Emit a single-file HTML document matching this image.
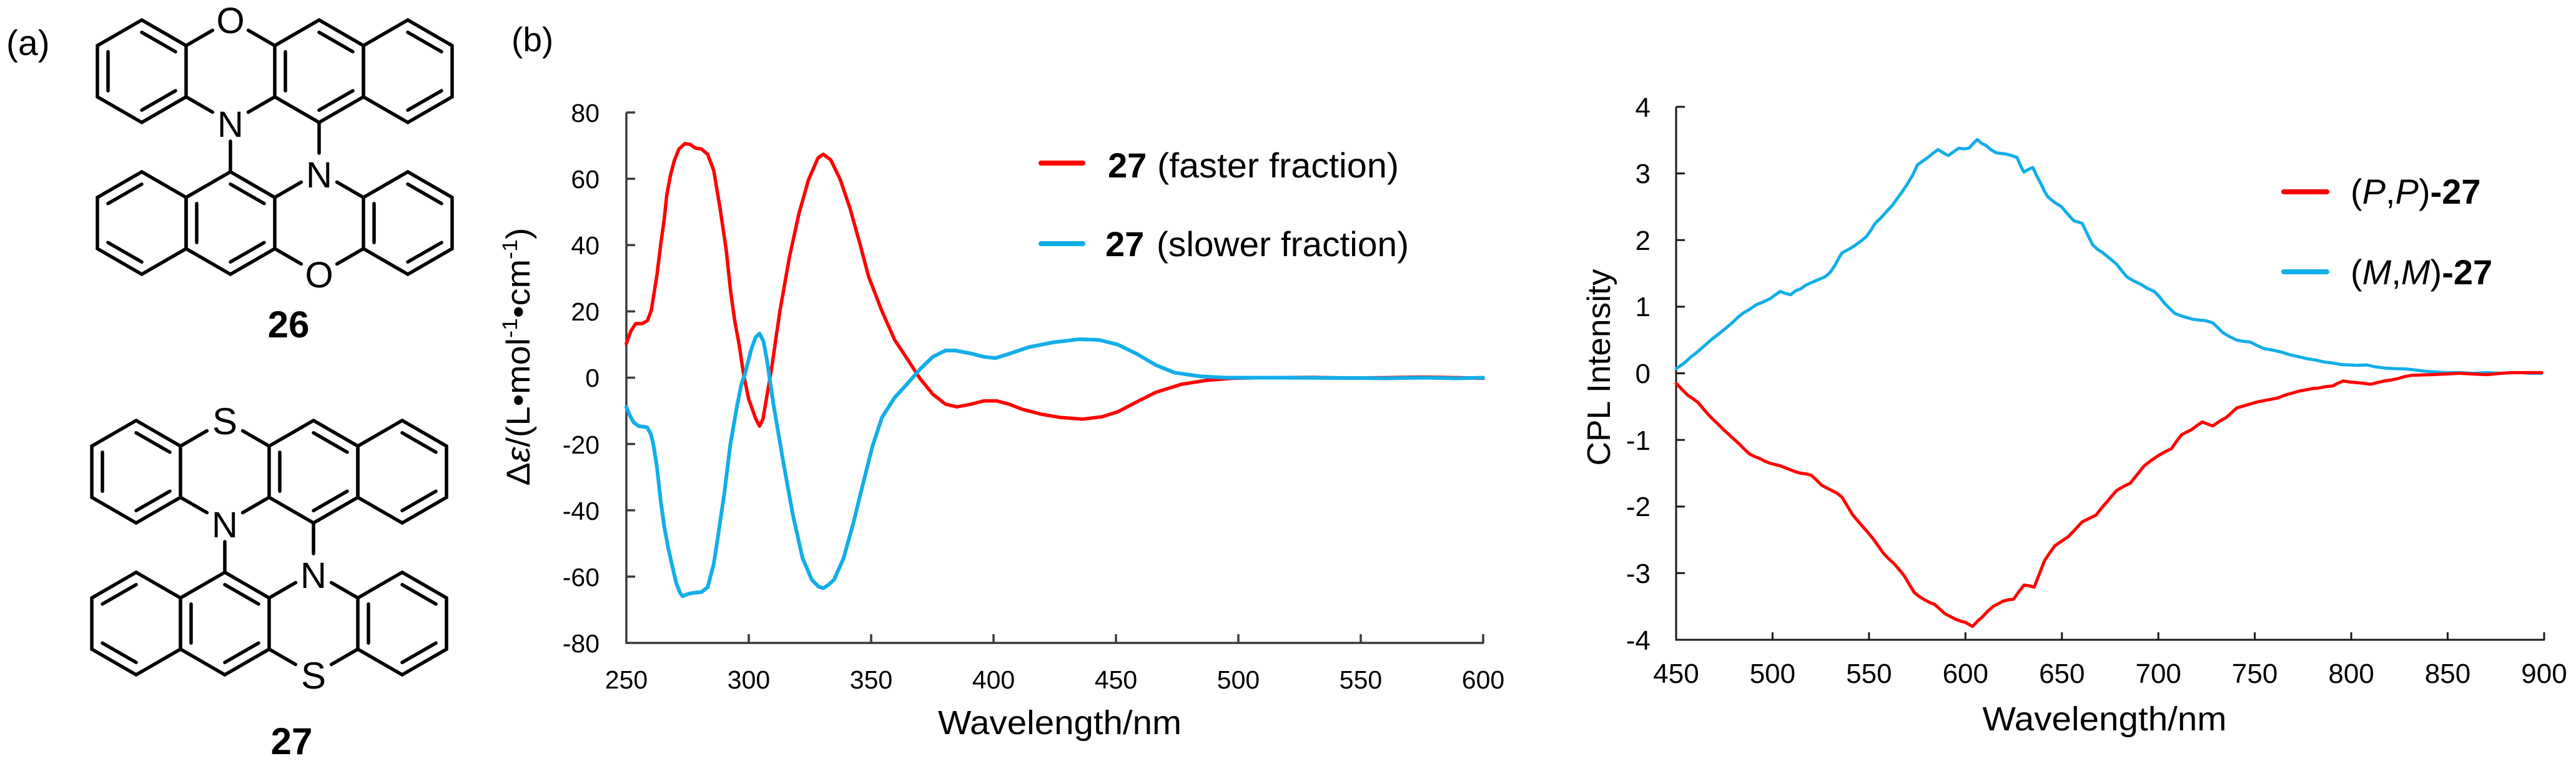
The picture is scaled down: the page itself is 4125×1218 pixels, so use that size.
<!DOCTYPE html>
<html>
<head>
<meta charset="utf-8">
<style>
  html,body{margin:0;padding:0;background:#fff;}
  svg{display:block;}
  text{font-family:"Liberation Sans", Arial, sans-serif; fill:#000;}
</style>
</head>
<body>
<svg xmlns="http://www.w3.org/2000/svg" width="4125" height="1218" viewBox="0 0 4125 1218">
  <rect x="0" y="0" width="4125" height="1218" fill="#fff"/>

  <!-- Panel labels -->
  <text x="10" y="88" font-size="57">(a)</text>
  <text x="819" y="82" font-size="55">(b)</text>

  <!-- ===== Molecule 26 ===== -->
  <g transform="translate(227,114)">
    <g fill="none" stroke="#000" stroke-width="5.5" stroke-linejoin="miter" stroke-linecap="round">
      <polygon points="0,-82 71,-41 71,41 0,82 -71,41 -71,-41"/>
      <polygon points="284,-82 355,-41 355,41 284,82 213,41 213,-41"/>
      <polygon points="426,-82 497,-41 497,41 426,82 355,41 355,-41"/>
      <polygon points="0,161 71,202 71,284 0,325 -71,284 -71,202"/>
      <polygon points="142,161 213,202 213,284 142,325 71,284 71,202"/>
      <polygon points="426,161 497,202 497,284 426,325 355,284 355,202"/>
      <path d="M71,-41 L113.4,-65.5 M213,-41 L170.6,-65.5 M71,41 L113.4,65.5 M213,41 L170.6,65.5 M142,112 L142,161 M284,82 L284,131 M213,202 L255.4,177.5 M355,202 L312.6,177.5 M213,284 L255.4,308.5 M355,284 L312.6,308.5"/>
      <path d="M0,-62.3 L54,-31.2 M-54,-31.2 L-54,31.2 M54,31.2 L0,62.3 M230,-31.2 L230,31.2 M284,-62.3 L338,-31.2 M338,31.2 L284,62.3 M426,-62.3 L480,-31.2 M480,31.2 L426,62.3 M-54,211.8 L0,180.7 M-54,274.2 L0,305.3 M142,180.7 L196,211.8 M88,211.8 L88,274.2 M196,274.2 L142,305.3 M426,180.7 L480,211.8 M372,211.8 L372,274.2 M480,274.2 L426,305.3"/>
    </g>
    <text x="142" y="-61" font-size="58" text-anchor="middle">O</text>
    <text x="142" y="105" font-size="58" text-anchor="middle">N</text>
    <text x="284" y="186" font-size="58" text-anchor="middle">N</text>
    <text x="284" y="346" font-size="58" text-anchor="middle">O</text>
  </g>
  <text x="462" y="540" font-size="60" font-weight="bold" text-anchor="middle">26</text>

  <!-- ===== Molecule 27 ===== -->
  <g transform="translate(218,755)">
    <g fill="none" stroke="#000" stroke-width="5.5" stroke-linejoin="miter" stroke-linecap="round">
      <polygon points="0,-82 71,-41 71,41 0,82 -71,41 -71,-41"/>
      <polygon points="284,-82 355,-41 355,41 284,82 213,41 213,-41"/>
      <polygon points="426,-82 497,-41 497,41 426,82 355,41 355,-41"/>
      <polygon points="0,161 71,202 71,284 0,325 -71,284 -71,202"/>
      <polygon points="142,161 213,202 213,284 142,325 71,284 71,202"/>
      <polygon points="426,161 497,202 497,284 426,325 355,284 355,202"/>
      <path d="M71,-41 L113.4,-65.5 M213,-41 L170.6,-65.5 M71,41 L113.4,65.5 M213,41 L170.6,65.5 M142,112 L142,161 M284,82 L284,131 M213,202 L255.4,177.5 M355,202 L312.6,177.5 M213,284 L255.4,308.5 M355,284 L312.6,308.5"/>
      <path d="M0,-62.3 L54,-31.2 M-54,-31.2 L-54,31.2 M54,31.2 L0,62.3 M230,-31.2 L230,31.2 M284,-62.3 L338,-31.2 M338,31.2 L284,62.3 M426,-62.3 L480,-31.2 M480,31.2 L426,62.3 M-54,211.8 L0,180.7 M-54,274.2 L0,305.3 M142,180.7 L196,211.8 M88,211.8 L88,274.2 M196,274.2 L142,305.3 M426,180.7 L480,211.8 M372,211.8 L372,274.2 M480,274.2 L426,305.3"/>
    </g>
    <text x="142" y="-60" font-size="60" text-anchor="middle">S</text>
    <text x="142" y="105" font-size="58" text-anchor="middle">N</text>
    <text x="284" y="186" font-size="58" text-anchor="middle">N</text>
    <text x="284" y="347" font-size="60" text-anchor="middle">S</text>
  </g>
  <text x="467" y="1207" font-size="60" font-weight="bold" text-anchor="middle">27</text>

  <!-- ===== CD chart ===== -->
  <g stroke="#3a3a3a" stroke-width="3.5" fill="none">
    <path d="M1003,180 L1003,1029 L2376,1029"/>
    <path d="M1003,180 H1017 M1003,286.1 H1017 M1003,392.3 H1017 M1003,498.4 H1017 M1003,604.5 H1017 M1003,710.6 H1017 M1003,816.7 H1017 M1003,922.9 H1017"/>
    <path d="M1199,1029 V1015 M1395,1029 V1015 M1591,1029 V1015 M1787,1029 V1015 M1983,1029 V1015 M2179,1029 V1015 M2375,1029 V1015"/>
  </g>
  <g font-size="41" fill="#222" text-anchor="end">
    <text x="960" y="195">80</text>
    <text x="960" y="301">60</text>
    <text x="960" y="407">40</text>
    <text x="960" y="513">20</text>
    <text x="960" y="619">0</text>
    <text x="960" y="726">-20</text>
    <text x="960" y="832">-40</text>
    <text x="960" y="938">-60</text>
    <text x="960" y="1044">-80</text>
  </g>
  <g font-size="41" fill="#222" text-anchor="middle">
    <text x="1003" y="1102">250</text>
    <text x="1199" y="1102">300</text>
    <text x="1395" y="1102">350</text>
    <text x="1591" y="1102">400</text>
    <text x="1787" y="1102">450</text>
    <text x="1983" y="1102">500</text>
    <text x="2179" y="1102">550</text>
    <text x="2375" y="1102">600</text>
  </g>
  <text x="1697" y="1175" font-size="54" text-anchor="middle" textLength="390" lengthAdjust="spacingAndGlyphs">Wavelength/nm</text>
  <text transform="translate(848,571) rotate(-90)" font-size="53" text-anchor="middle" textLength="413" lengthAdjust="spacingAndGlyphs">Δ<tspan font-style="italic">ε</tspan>/(L•mol<tspan dy="-20" font-size="34">-1</tspan><tspan dy="20">•cm</tspan><tspan dy="-20" font-size="34">-1</tspan><tspan dy="20">)</tspan></text>

  <g transform="matrix(3.92 0 0 -5.306 23 604.5)" fill="none" stroke-linejoin="round" stroke-linecap="round">
    <polyline vector-effect="non-scaling-stroke" stroke="#ff0000" stroke-width="5.5" points="250,10.3 251.8,14 253.8,16.3 256.4,16.3 258.6,17.2 260.2,20.3 261,24 262.5,31 264,40 265.5,48 266.5,55 268,61 269.6,65.5 271.5,69 273.9,70.6 276,70.4 277.5,69.6 278.5,69.2 280.6,69 283.2,67.4 285.7,62.5 288.3,51 290.8,38.5 292.6,26 294.3,17 296,10.3 298,0.5 300,-6.5 302.8,-12.3 304.4,-14.6 305.8,-12.5 307.3,-6 309.3,2.6 312.7,20 316.6,36.3 320.5,49.5 324.4,59.7 328.3,66.3 330.4,67.4 333.5,65.7 337.4,59.7 341.4,51 345.3,40.7 349,30.4 354.4,20.1 359.6,11.4 364.8,5.6 370,-0.3 375.2,-5 380.4,-8 385,-8.8 390.8,-8 396,-7 401.3,-7 406.4,-8 411.6,-9.5 419.4,-11 427.3,-12 436.4,-12.5 444.2,-11.8 450.7,-10.3 458.5,-7.3 466.3,-4.4 476.7,-2 487,-0.8 497.5,-0.2 510,0 530,0.1 545,-0.1 560,0 575,0.2 590,0 600,-0.2"/>
    <polyline vector-effect="non-scaling-stroke" stroke="#12aee8" stroke-width="6" points="250,-8.9 251.5,-11.5 253,-13.5 255,-14.6 257,-14.8 258.5,-15 260,-17 261,-20 262.5,-27 264,-37 265.5,-45 267,-51 268.5,-56 270.4,-62 272,-65 273,-65.9 275,-65.3 277.3,-64.9 280.6,-64.7 283.2,-63.2 285.7,-56.2 287.5,-47.5 290,-35 292.5,-20 295.2,-8.6 297,-2 298.6,1.5 301,8.5 302.8,12.2 304.4,13.3 306,11 307.5,5 310,-7.6 314,-25 318,-41.3 322,-54.5 325.8,-61 328.5,-63 330.4,-63.5 332.5,-62.5 334.8,-61 338.7,-54.5 342.6,-44.2 346.5,-32.5 350.5,-20.8 354.4,-12 359.6,-6 364.8,-1.8 370,2.6 375.2,6.3 380.4,8.2 384.3,8.2 390.8,7.3 396,6.3 400.7,5.9 406.4,7.2 414.3,9.2 424.7,10.7 435.1,11.6 443,11.4 450.7,10 458.5,7.2 466.3,3.8 474,1.5 484.5,0.4 495,0 520,0 550,-0.1 560,-0.2 575,0 590,-0.2 600,0"/>
  </g>

  <!-- CD legend -->
  <line x1="1667" y1="261" x2="1734" y2="261" stroke="#ff0000" stroke-width="8" stroke-linecap="round"/>
  <line x1="1667" y1="390" x2="1734" y2="390" stroke="#12aee8" stroke-width="8" stroke-linecap="round"/>
  <text x="1774" y="284" font-size="56" font-weight="bold">27</text>
  <text x="1853" y="284" font-size="56" textLength="387" lengthAdjust="spacingAndGlyphs">(faster fraction)</text>
  <text x="1770" y="410" font-size="56" font-weight="bold">27</text>
  <text x="1852" y="410" font-size="56" textLength="404" lengthAdjust="spacingAndGlyphs">(slower fraction)</text>

  <!-- ===== CPL chart ===== -->
  <g stroke="#1a1a1a" stroke-width="3" fill="none">
    <path d="M2684,171 L2684,1024 L4075,1024"/>
    <path d="M2684,171 H2698 M2684,277.6 H2698 M2684,384.3 H2698 M2684,490.9 H2698 M2684,597.5 H2698 M2684,704.1 H2698 M2684,810.7 H2698 M2684,917.3 H2698"/>
    <path d="M2838.4,1024 V1012 M2992.9,1024 V1012 M3147.3,1024 V1012 M3301.8,1024 V1012 M3456.2,1024 V1012 M3610.6,1024 V1012 M3765.1,1024 V1012 M3919.5,1024 V1012 M4074,1024 V1012"/>
  </g>
  <g font-size="44" fill="#111" text-anchor="end">
    <text x="2643" y="187">4</text>
    <text x="2643" y="293">3</text>
    <text x="2643" y="400">2</text>
    <text x="2643" y="506">1</text>
    <text x="2643" y="613">0</text>
    <text x="2643" y="720">-1</text>
    <text x="2643" y="826">-2</text>
    <text x="2643" y="933">-3</text>
    <text x="2643" y="1040">-4</text>
  </g>
  <g font-size="44" fill="#111" text-anchor="middle">
    <text x="2684" y="1093">450</text>
    <text x="2838.4" y="1093">500</text>
    <text x="2992.9" y="1093">550</text>
    <text x="3147.3" y="1093">600</text>
    <text x="3301.8" y="1093">650</text>
    <text x="3456.2" y="1093">700</text>
    <text x="3610.6" y="1093">750</text>
    <text x="3765.1" y="1093">800</text>
    <text x="3919.5" y="1093">850</text>
    <text x="4074" y="1093">900</text>
  </g>
  <text x="3370" y="1169" font-size="54" text-anchor="middle" textLength="391" lengthAdjust="spacingAndGlyphs">Wavelength/nm</text>
  <text transform="translate(2578,588) rotate(-90)" font-size="52" text-anchor="middle" textLength="315" lengthAdjust="spacingAndGlyphs">CPL Intensity</text>

  <g transform="matrix(3.089 0 0 -106.6 1294 597.5)" fill="none" stroke-linejoin="round" stroke-linecap="round">
    <polyline vector-effect="non-scaling-stroke" stroke="#12aee8" stroke-width="5" points="450,0.07 454,0.15 457.8,0.25 461,0.32 464.9,0.42 468,0.5 472,0.59 475,0.66 479.1,0.76 482,0.84 484.5,0.9 488,0.96 491.6,1.03 495,1.07 498.7,1.12 501,1.17 504,1.23 506.5,1.2 509.4,1.18 512,1.24 514.7,1.27 517,1.32 520,1.36 524,1.41 527.2,1.45 530,1.52 532.5,1.63 534.5,1.74 536,1.81 540,1.87 543.2,1.93 546,1.99 548.5,2.05 551,2.15 553.1,2.25 556,2.33 559.1,2.43 562,2.52 564.5,2.62 567,2.72 569.8,2.84 572.5,2.97 575.1,3.13 578,3.19 580.5,3.24 583,3.3 585.8,3.36 588.5,3.31 591.1,3.27 594,3.33 596.5,3.38 599,3.37 601.8,3.38 604,3.45 606.1,3.51 608.5,3.45 610.7,3.42 613,3.36 616,3.31 619,3.3 621.4,3.29 624,3.27 626.7,3.24 628.5,3.12 630.3,3.02 632.5,3.06 634.9,3.09 637,2.96 639.2,2.84 641,2.73 642.7,2.65 646,2.57 649.8,2.5 653,2.39 656.2,2.29 658.5,2.27 660.5,2.25 663,2.1 665.9,1.93 668.5,1.86 671.2,1.81 675,1.72 678.3,1.64 681,1.54 683.6,1.45 687,1.39 690.7,1.34 694,1.28 697.8,1.23 700.5,1.15 703.2,1.05 706,0.97 708.5,0.9 712,0.86 715.6,0.83 718,0.81 721,0.8 724.5,0.79 728.1,0.76 731,0.68 733.4,0.61 737,0.55 740.5,0.5 744,0.48 747.6,0.47 751,0.42 754.8,0.37 759,0.35 763.6,0.32 768,0.28 772.5,0.25 777,0.22 781.4,0.2 786,0.17 790.3,0.155 795,0.13 799.2,0.125 803,0.12 808,0.125 812,0.1 817,0.08 822,0.07 827.6,0.067 833,0.05 838.3,0.03 844,0.02 849,0.01 856,0.01 863.2,0 870,0.01 877.4,0 883,0.01 888,0.01 893,0 898.7,0"/>
    <polyline vector-effect="non-scaling-stroke" stroke="#ff0000" stroke-width="5" points="450,-0.15 453,-0.24 456,-0.33 458.7,-0.38 461.4,-0.44 464,-0.53 466.7,-0.62 469.4,-0.7 472,-0.77 474.7,-0.85 477.4,-0.92 480,-0.99 482.7,-1.06 485.4,-1.14 488,-1.21 490.7,-1.25 493.4,-1.28 496,-1.32 498.7,-1.35 501.4,-1.37 504,-1.39 506.7,-1.42 509.4,-1.45 512,-1.48 514.7,-1.5 517.4,-1.51 520,-1.53 522.7,-1.6 525.4,-1.68 528,-1.72 530.7,-1.76 533.4,-1.8 536,-1.86 538.7,-1.99 541.4,-2.12 544,-2.21 546.7,-2.3 549.4,-2.39 552,-2.48 554.7,-2.59 557.4,-2.7 560,-2.78 562.7,-2.85 565.4,-2.94 568,-3.03 570.7,-3.16 573.4,-3.29 576,-3.35 578.7,-3.4 581.4,-3.44 584,-3.47 586.7,-3.54 589.4,-3.61 592,-3.65 594.7,-3.69 597.4,-3.72 600,-3.74 601.8,-3.77 603.6,-3.8 606.3,-3.72 609,-3.65 611.6,-3.57 614.3,-3.5 617,-3.46 619.6,-3.42 622.3,-3.4 625,-3.39 627.6,-3.28 630.3,-3.18 633,-3.19 635.6,-3.21 638.3,-3.01 641,-2.81 643.6,-2.7 646.3,-2.59 649.8,-2.52 653.4,-2.45 657,-2.34 660.5,-2.23 664,-2.18 667.6,-2.13 670.3,-2.03 673,-1.94 675.6,-1.85 678.3,-1.76 681.8,-1.7 685.4,-1.65 689,-1.52 692.6,-1.39 696.2,-1.31 699.7,-1.24 703.3,-1.18 706.8,-1.13 709.4,-1.02 712.1,-0.92 714.8,-0.88 717.5,-0.84 720.2,-0.78 722.8,-0.73 725.4,-0.76 728.1,-0.79 731.7,-0.72 735.3,-0.66 738,-0.59 740.6,-0.52 744.2,-0.49 747.7,-0.46 751.2,-0.43 754.8,-0.41 758.4,-0.39 761.9,-0.37 765.4,-0.33 769,-0.3 772.6,-0.27 776.1,-0.25 779.7,-0.23 783.2,-0.22 786.8,-0.2 790.3,-0.19 793,-0.15 795.7,-0.115 799.2,-0.13 802.8,-0.14 806.4,-0.15 809.9,-0.165 813.4,-0.14 817,-0.115 820.6,-0.1 824.1,-0.08 827.6,-0.05 831.2,-0.03 836.5,-0.025 841.9,-0.02 849,-0.01 856,0 863,-0.01 870.3,-0.02 877.4,0 884.5,0.01 891.6,0.01 898.7,0.01"/>
  </g>

  <!-- CPL legend -->
  <line x1="3657" y1="307" x2="3726" y2="307" stroke="#ff0000" stroke-width="8" stroke-linecap="round"/>
  <line x1="3657" y1="435" x2="3726" y2="435" stroke="#12aee8" stroke-width="8" stroke-linecap="round"/>
  <text x="3764" y="326" font-size="56">(<tspan font-style="italic">P</tspan>,<tspan font-style="italic">P</tspan>)<tspan font-weight="bold">-27</tspan></text>
  <text x="3764" y="455" font-size="56">(<tspan font-style="italic">M</tspan>,<tspan font-style="italic">M</tspan>)<tspan font-weight="bold">-27</tspan></text>
</svg>
</body>
</html>
